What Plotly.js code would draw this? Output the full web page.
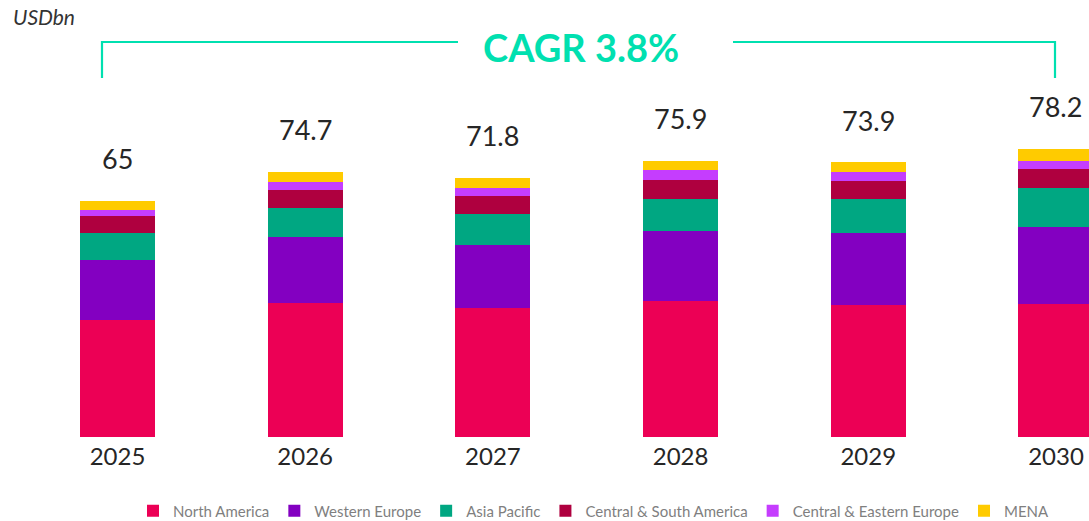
<!DOCTYPE html>
<html>
<head>
<meta charset="utf-8">
<script src="https://cdn.plot.ly/plotly-3.0.1.min.js"></script>
<style>html,body{margin:0;padding:0;background:#fff;}#chart{width:1089px;height:521px;}</style>
</head>
<body>
<div id="chart"></div>
<script>
// Data (USD bn)
var years = ['2025', '2026', '2027', '2028', '2029', '2030'];
var northAmerica = [32.1, 36.7, 35.4, 37.3, 36.2, 36.4];
var westernEurope = [16.5, 18.1, 17.2, 19.2, 19.8, 21.4];
var asiaPacific = [7.3, 8.2, 8.5, 8.8, 9.3, 10.7];
var centralSouthAmerica = [4.7, 4.9, 5.2, 5.2, 4.9, 5.2];
var centralEasternEurope = [1.6, 2.2, 2.2, 2.7, 2.5, 2.2];
var mena = [2.7, 2.7, 2.7, 2.7, 2.7, 3.3];
var totalLabels = ['65', '74.7', '71.8', '75.9', '73.9', '78.2'];
var seriesNames = ['North America', 'Western Europe', 'Asia Pacific', 'Central & South America', 'Central & Eastern Europe', 'MENA'];
var seriesColors = ['#EC0055', '#8300C1', '#00A782', '#AF003F', '#C53DFE', '#FFCB00'];
var cagrText = 'CAGR 3.8%';
var unitText = 'USDbn';

var seriesValues = [northAmerica, westernEurope, asiaPacific, centralSouthAmerica, centralEasternEurope, mena];
var FONT = 'Lato, "Open Sans", "DejaVu Sans", sans-serif';

var traces = seriesValues.map(function (vals, k) {
  return {
    type: 'bar', x: years, y: vals, name: seriesNames[k],
    marker: {color: seriesColors[k], line: {width: 0}},
    hoverinfo: 'skip'
  };
});

var stackTops = years.map(function (_, i) {
  return seriesValues.reduce(function (s, arr) { return s + arr[i]; }, 0);
});

// total labels placed on the category index of each year
var annotations = years.map(function (yr, i) {
  return {
    x: i, y: stackTops[i], xref: 'x', yref: 'y',
    text: totalLabels[i], showarrow: false,
    xanchor: 'center', yanchor: 'middle', yshift: 42,
    font: {family: FONT, size: 27, color: '#262626'}
  };
});

// paper helpers for a 437px-tall plot area starting at top
var PH = 437, PW = 1089;
function px(x) { return x / PW; }
function py(y) { return (PH - y) / PH; }

annotations.push({
  xref: 'paper', yref: 'paper', x: px(11), y: py(16.5), xanchor: 'left', yanchor: 'middle',
  text: '<i>' + unitText + '</i>', showarrow: false,
  font: {family: FONT, size: 21, color: '#333333'}
});
annotations.push({
  xref: 'paper', yref: 'paper', x: px(581), y: py(47), xanchor: 'center', yanchor: 'middle',
  text: '<b>' + cagrText + '</b>', showarrow: false,
  font: {family: FONT, size: 38, color: '#00E0B0'}
});

var bracketColor = '#00E0B0';
var shapes = [
  {type: 'path', xref: 'paper', yref: 'paper',
   path: 'M ' + px(102) + ',' + py(78) + ' L ' + px(102) + ',' + py(42) + ' L ' + px(458) + ',' + py(42),
   line: {color: bracketColor, width: 2.2}},
  {type: 'path', xref: 'paper', yref: 'paper',
   path: 'M ' + px(733) + ',' + py(42) + ' L ' + px(1055) + ',' + py(42) + ' L ' + px(1055) + ',' + py(78),
   line: {color: bracketColor, width: 2.2}}
];

var layout = {
  width: 1089, height: 521,
  margin: {l: 0, r: 0, t: 0, b: 84, pad: 0, autoexpand: false},
  paper_bgcolor: '#ffffff', plot_bgcolor: '#ffffff',
  barmode: 'stack', bargap: 0.6,
  showlegend: true,
  legend: {
    orientation: 'h', x: px(594), xanchor: 'center', y: py(511), yanchor: 'middle',
    font: {family: FONT, size: 15, color: '#7F7F7F'},
    itemclick: false, itemdoubleclick: false, traceorder: 'normal'
  },
  xaxis: {
    type: 'category', range: [-0.626, 5.176], showgrid: false, zeroline: false, showline: false,
    ticks: '', ticklabelstandoff: 3, automargin: false,
    tickfont: {family: FONT, size: 24, color: '#262626'}, fixedrange: true
  },
  yaxis: {range: [0, 120], showticklabels: false, ticks: '', showgrid: false, zeroline: false,
          showline: false, automargin: false, fixedrange: true},
  annotations: annotations,
  shapes: shapes,
  hovermode: false
};

Plotly.newPlot('chart', traces, layout, {displayModeBar: false, staticPlot: true});
</script>
</body>
</html>
